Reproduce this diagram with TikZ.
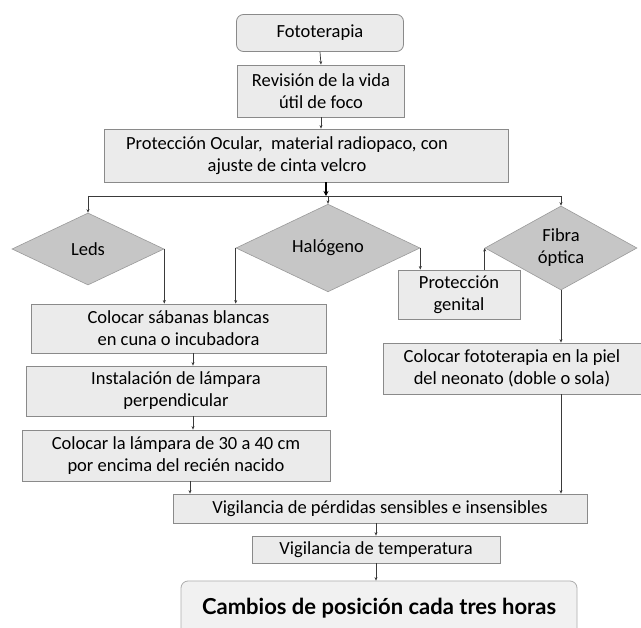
\documentclass[tikz,border=0pt]{standalone}
\usepackage{fontspec}
\setmainfont{Carlito}
\newfontfamily\headfont{Lato}
\usetikzlibrary{shapes.geometric,arrows.meta}

\definecolor{boxfill}{HTML}{EBEBEB}
\definecolor{boxline}{HTML}{8A8A8A}
\definecolor{diafill}{HTML}{C6C6C6}
\definecolor{dialine}{HTML}{9A9A9A}
\definecolor{wire}{HTML}{3A3A3A}

\tikzset{
  boxfont/.style={font=\fontsize{18.5}{22}\selectfont},
  stepbox/.style={rectangle, draw=boxline, fill=boxfill, line width=0.8pt,
    inner sep=0pt, align=center, text=black, boxfont},
  roundbox/.style={stepbox, rounded corners=7pt},
  choice/.style={diamond, draw=dialine, fill=diafill, line width=0.6pt,
    inner sep=0pt, align=center, boxfont},
  arr/.style={draw=wire, line width=0.7pt, -{Stealth[length=3.5pt,width=3pt]}},
  wireline/.style={draw=wire, line width=0.7pt},
  bigarr/.style={draw=black, line width=1.3pt, -{Stealth[length=5pt,width=5pt]}}
}

\begin{document}
\begin{tikzpicture}[x=1pt,y=-1pt]
\useasboundingbox[fill=white] (0,0) rectangle (641,628);

% top of the chart
\node[roundbox, minimum width=167pt, minimum height=37pt] (foto) at (320,33) {Fototerapia};
\node[stepbox, minimum width=167pt, minimum height=52pt] (rev) at (321,91) {Revisión de la vida\\útil de foco};
\node[stepbox, minimum width=404pt, minimum height=53pt,
  label={[xshift=-19pt, align=center, boxfont]center:Protección Ocular,\ \ material radiopaco, con\\ajuste de cinta velcro}]
  (prot) at (306,155.5) {};

% the three light sources
\node[choice, minimum width=152pt, minimum height=72pt] (leds) at (88,249) {Leds};
\node[choice, minimum width=184pt, minimum height=70pt] (halo) at (328,248) {Halógeno};
\node[choice, minimum width=152pt, minimum height=74pt] (fib) at (561,248) {Fibra\\óptica};

% left column
\node[stepbox, minimum width=295pt, minimum height=49pt] (sab) at (178.5,328.5) {Colocar sábanas blancas\\en cuna o incubadora};
\node[stepbox, minimum width=300pt, minimum height=50pt] (inst) at (176,391) {Instalación de lámpara\\perpendicular};
\node[stepbox, minimum width=308pt, minimum height=51pt] (lamp) at (176,455.5) {Colocar la lámpara de 30 a 40 cm\\por encima del recién nacido};

% right column
\node[stepbox, minimum width=122pt, minimum height=49pt] (pg) at (459,294.5) {Protección\\genital};
\node[stepbox, minimum width=258pt, minimum height=51pt] (cfot) at (512,368.5) {Colocar fototerapia en la piel\\del neonato (doble o sola)};

% bottom of the chart
\node[stepbox, minimum width=414pt, minimum height=29pt] (vp) at (380,508.5) {Vigilancia de pérdidas sensibles e insensibles};
\node[stepbox, minimum width=248pt, minimum height=27pt] (vt) at (376,549.5) {Vigilancia de temperatura};
\node[roundbox, draw=boxline!70, fill=boxfill!70, minimum width=396pt, minimum height=54pt,
  font=\headfont\bfseries\fontsize{22}{26}\selectfont] (cam) at (379,608) {Cambios de posición cada tres horas};

% connectors
\coordinate (split) at (326,196);
\draw[arr] (foto.south) -- (rev.north);
\draw[arr] (rev.south) -- (rev.south |- prot.north);
\draw[bigarr] (split |- prot.south) -- (split);
\draw[wireline] (leds.north |- split) -- (fib.north |- split);
\draw[arr] (leds.north |- split) -- (leds.north);
\draw[arr] (halo.north |- split) -- (halo.north);
\draw[arr] (fib.north |- split) -- (fib.north);

\draw[arr] (leds.east) -- (leds.east |- sab.north);
\draw[arr] (halo.west) -- (halo.west |- sab.north);
\draw[arr] (halo.east) -- (halo.east |- pg.north);
\draw[arr] (fib.west |- pg.north) -- (fib.west);
\draw[arr] (fib.south) -- (fib.south |- cfot.north);

\draw[arr] ([xshift=14.5pt]sab.south) -- ([xshift=14.5pt]sab.south |- inst.north);
\draw[arr] ([xshift=17pt]inst.south) -- ([xshift=17pt]inst.south |- lamp.north);
\draw[arr] ([xshift=14pt]lamp.south) -- ([xshift=14pt]lamp.south |- vp.north);
\draw[arr] (cfot.south -| fib.south) -- (fib.south |- vp.north);
\draw[arr] (vt.north |- vp.south) -- (vt.north);
\draw[arr] (vt.south) -- (vt.south |- cam.north);
\end{tikzpicture}
\end{document}
